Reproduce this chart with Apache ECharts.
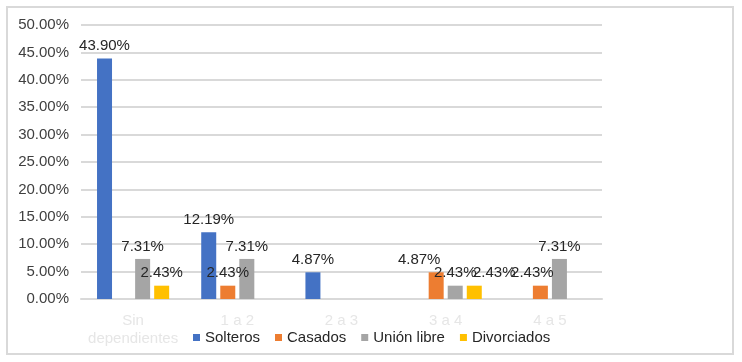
<!DOCTYPE html>
<html><head><meta charset="utf-8">
<script src="https://cdn.jsdelivr.net/npm/echarts@6/dist/echarts.min.js"></script>
<style>html,body{margin:0;padding:0;background:#fff}#c{width:742px;height:362px}</style>
</head><body><div id="c"></div>
<script>
const categories = ['Sin\ndependientes', '1 a 2', '2 a 3', '3 a 4', '4 a 5'];
const seriesNames = ['Solteros', 'Casados', 'Unión libre', 'Divorciados'];
const solteros = [43.90, 12.19, 4.87, null, null];
const casados = [null, 2.43, null, 4.87, 2.43];
const unionLibre = [7.31, 7.31, null, 2.43, 7.31];
const divorciados = [2.43, null, null, 2.43, null];
const colors = ['#4472C4', '#ED7D31', '#A5A5A5', '#FFC000'];
const FONT = '"Liberation Sans", Arial, sans-serif';
// horizontal nudges of some data labels (as in the original layout), [series][category] -> px
const labelShift = {'1-3': -17, '3-3': 20, '1-4': -8};

const values = [solteros, casados, unionLibre, divorciados];
const chart = echarts.init(document.getElementById('c'), null, {renderer: 'canvas'});
chart.setOption({
  animation: false,
  color: colors,
  textStyle: {fontFamily: FONT},
  graphic: [{type: 'rect', shape: {x: 7, y: 7, width: 726, height: 347}, style: {fill: 'none', stroke: '#d9d9d9', lineWidth: 2}, silent: true}],
  grid: {left: 81, right: 140, top: 25, bottom: 63},
  legend: {
    left: 188, top: 325, itemWidth: 7, itemHeight: 7, itemGap: 15,
    icon: 'rect',
    textStyle: {fontFamily: FONT, fontSize: 15, color: '#262626'},
    data: seriesNames
  },
  xAxis: {
    type: 'category', data: categories,
    axisLine: {lineStyle: {color: '#d9d9d9', width: 2}},
    axisTick: {show: false},
    axisLabel: {fontFamily: FONT, fontSize: 15, color: '#e6e6e6', margin: 13, lineHeight: 18, interval: 0}
  },
  yAxis: {
    type: 'value', min: 0, max: 50, interval: 5,
    axisLine: {show: false}, axisTick: {show: false},
    splitLine: {lineStyle: {color: '#d9d9d9', width: 2}},
    axisLabel: {fontFamily: FONT, fontSize: 15, color: '#404040', margin: 12,
      formatter: v => v.toFixed(2) + '%'}
  },
  series: seriesNames.map((n, i) => ({
    name: n, type: 'bar',
    data: values[i].map((v, j) => {
      const s = labelShift[i + '-' + j];
      return s ? {value: v, label: {offset: [s, 0]}} : v;
    }),
    barWidth: 15, barGap: '27%',
    label: {show: true, position: 'top', distance: 5, fontFamily: FONT, fontSize: 15, color: '#262626',
      formatter: p => p.value == null ? '' : p.value.toFixed(2) + '%'}
  }))
});
</script></body></html>
